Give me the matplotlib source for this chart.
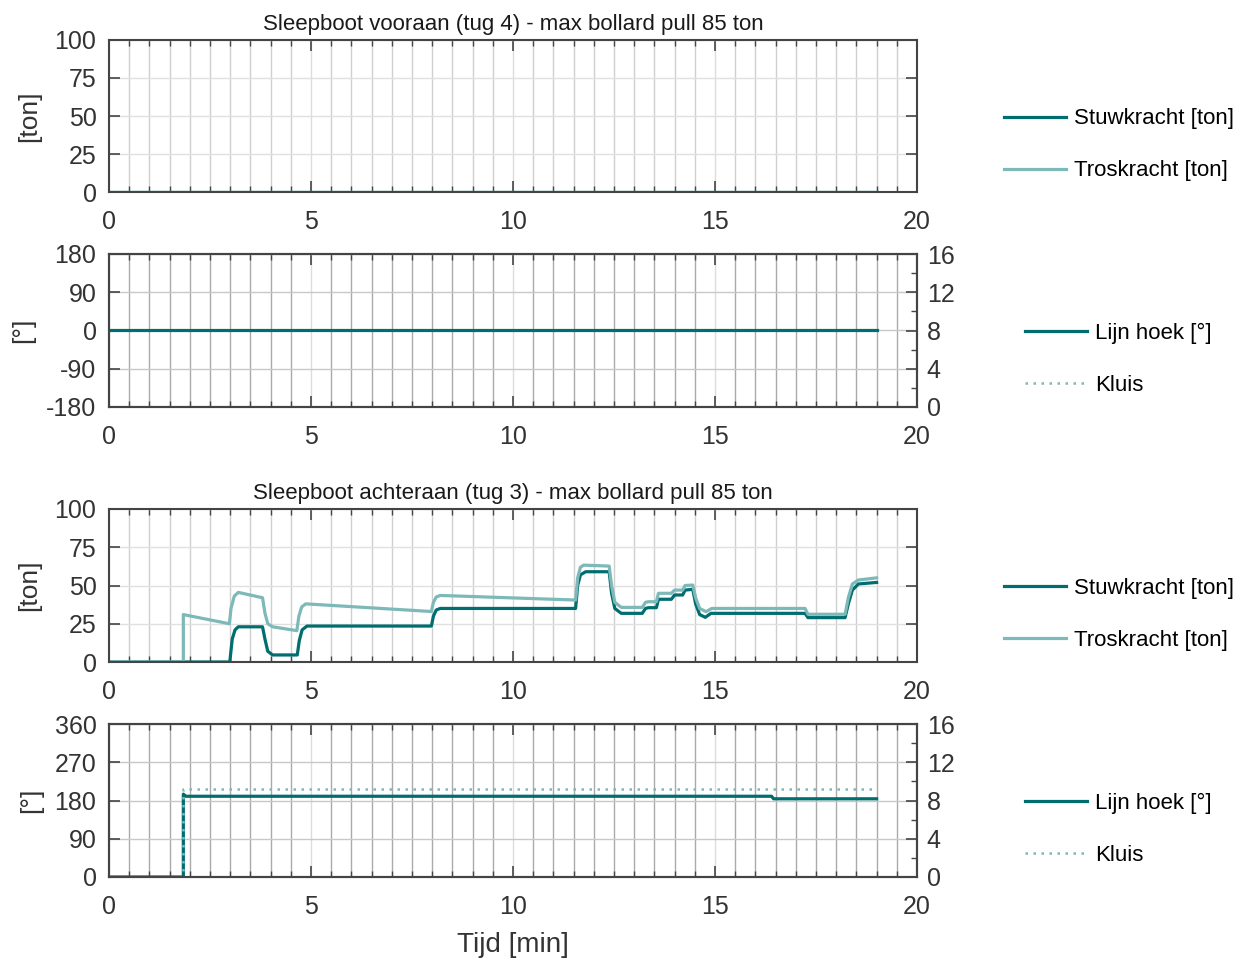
import matplotlib
matplotlib.use("Agg")
import matplotlib.pyplot as plt
from matplotlib.ticker import MultipleLocator

plt.rcParams['font.family'] = ['Liberation Sans', 'DejaVu Sans']
plt.rcParams['axes.unicode_minus'] = False

DARK = "#006d6f"
LIGHT = "#7db9b8"
TXT = "#333333"

# tug 4 (vooraan) - everything at zero
t4 = [0, 19.0]
stuw4 = [0, 0]
tros4 = [0, 0]
hoek4 = [0, 0]
kluis4 = [-180, -180]

# tug 3 (achteraan)
t_stuw3 = [0, 2.99, 3.05, 3.12, 3.2, 3.8, 3.86, 3.93, 4.05, 4.66, 4.71, 4.78, 4.9,
           7.98, 8.03, 8.1, 8.2, 11.55, 11.6, 11.67, 11.8, 12.38, 12.44, 12.52, 12.68,
           13.2, 13.28, 13.35, 13.55, 13.6, 13.92, 14.0, 14.2, 14.26, 14.45, 14.52,
           14.62, 14.76, 14.9, 17.23, 17.3, 18.22, 18.3, 18.4, 18.55, 19.0]
stuw3 = [0, 0, 15, 21, 23, 23, 15, 7, 4.6, 4.6, 14, 21, 23.5,
         23.5, 30, 34, 35, 35, 50, 57, 59, 59, 45, 35, 31.8,
         31.8, 35, 35.5, 35.5, 41, 41, 43.8, 43.8, 47, 47.5, 38,
         31, 29.2, 31.8, 31.8, 29, 29, 38, 47, 51, 52]

t_tros3 = [0, 1.84, 1.84, 2.98, 3.02, 3.1, 3.2, 3.8, 3.86, 3.93, 4.05, 4.65, 4.7,
           4.77, 4.87, 7.98, 8.03, 8.1, 8.2, 11.55, 11.6, 11.67, 11.75, 12.38, 12.44,
           12.52, 12.68, 13.2, 13.28, 13.35, 13.55, 13.6, 13.92, 14.0, 14.2, 14.26,
           14.45, 14.52, 14.62, 14.78, 14.92, 17.23, 17.3, 18.22, 18.3, 18.4, 18.55, 19.0]
tros3 = [0, 0, 31, 25, 35, 43, 45.5, 42, 32, 25, 23, 20.5, 30,
         36, 38, 33, 39, 42.5, 43.5, 40.5, 55, 62, 63.3, 62.7, 50,
         39, 35.7, 35.7, 39, 39.4, 39.4, 44.9, 44.9, 47, 47, 50,
         50.3, 42, 35, 32.9, 35, 35, 31.2, 31.2, 42, 51, 53.6, 55]

t_hoek3 = [0, 1.84, 1.84, 1.9, 16.4, 16.45, 19.0]
hoek3 = [0, 0, 195, 190, 190, 184, 184]
t_kluis3 = [0, 1.84, 1.84, 19.0]
kluis3 = [0, 0, 206, 206]

titles = ["Sleepboot vooraan (tug 4) - max bollard pull 85 ton",
          "Sleepboot achteraan (tug 3) - max bollard pull 85 ton"]

fig = plt.figure(figsize=(12.42, 9.58), dpi=100)
W, H = 1242, 958
FS = 18


def make_ax(top, bot):
    return fig.add_axes([109 / W, 1 - bot / H, 808 / W, (bot - top) / H])


def style(ax, vcol, hcol):
    ax.set_xlim(0, 20)
    ax.xaxis.set_major_locator(MultipleLocator(5))
    ax.xaxis.set_minor_locator(MultipleLocator(0.5))
    ax.tick_params(which='both', direction='in', colors="#444444", labelcolor=TXT,
                   labelsize=FS, top=True)
    ax.tick_params(which='major', length=8, width=1.2)
    ax.tick_params(which='minor', length=4, width=1.0)
    ax.tick_params(axis='x', pad=13)
    ax.tick_params(axis='y', pad=9)
    ax.grid(True, which='minor', axis='x', color=vcol, lw=1.0)
    ax.grid(True, which='major', axis='x', color="#dcdcdc", lw=1.0)
    ax.grid(True, which='major', axis='y', color=hcol, lw=1.0)
    ax.set_axisbelow(True)
    for s in ax.spines.values():
        s.set_color("#444444")
        s.set_linewidth(1.5)


def add_legend(ax, x):
    ax.legend(loc='center left', bbox_to_anchor=(x, 0.31), frameon=False,
              fontsize=16, handlelength=2.8, handletextpad=0.36, labelspacing=1.4,
              borderpad=0, borderaxespad=0)


def force_ax(top, bot, t_s, s, t_t, tr, title):
    ax = make_ax(top, bot)
    style(ax, "#cfcfcf", "#e0e0e0")
    ax.plot(t_s, s, color=DARK, lw=2.3, label="Stuwkracht [ton]")
    ax.plot(t_t, tr, color=LIGHT, lw=2.3, label="Troskracht [ton]")
    ax.set_ylim(0, 100)
    ax.set_yticks([0, 25, 50, 75, 100])
    ax.tick_params(axis='y', which='both', right=True)
    ax.set_ylabel("[ton]", fontsize=19, color=TXT, labelpad=10)
    ax.set_title(title, fontsize=16, color="#1a1a1a", pad=7)
    add_legend(ax, 1.108)
    return ax


def angle_ax(top, bot, t_h, h, t_k, k, ylim, yticks):
    ax = make_ax(top, bot)
    style(ax, "#aaaaaa", "#c8c8c8")
    ax.plot(t_h, h, color=DARK, lw=2.3, label="Lijn hoek [°]")
    ax.plot(t_k, k, color=LIGHT, lw=1.8, ls=(0, (1, 2.2)), label="Kluis")
    ax.set_ylim(*ylim)
    ax.set_yticks(yticks)
    ax.set_ylabel("[°]", fontsize=19, color=TXT, labelpad=8)
    ax2 = ax.twinx()
    ax2.set_ylim(0, 16)
    ax2.yaxis.set_major_locator(MultipleLocator(4))
    ax2.yaxis.set_minor_locator(MultipleLocator(2))
    ax2.tick_params(which='both', direction='in', colors="#444444", labelcolor=TXT,
                    labelsize=FS, pad=7)
    ax2.tick_params(which='major', length=8, width=1.2)
    ax2.tick_params(which='minor', length=4, width=1.0)
    for s in ax2.spines.values():
        s.set_color("#444444")
        s.set_linewidth(1.5)
    add_legend(ax, 1.134)
    return ax


force_ax(40, 192, t4, stuw4, t4, tros4, titles[0])
angle_ax(254, 407, t4, hoek4, t4, kluis4, (-180, 180), [-180, -90, 0, 90, 180])
force_ax(509, 662, t_stuw3, stuw3, t_tros3, tros3, titles[1])
ax4 = angle_ax(724, 877, t_hoek3, hoek3, t_kluis3, kluis3, (0, 360), [0, 90, 180, 270, 360])
ax4.set_xlabel("Tijd [min]", fontsize=20, color=TXT, labelpad=9)

fig.savefig("out.png", dpi=100)
